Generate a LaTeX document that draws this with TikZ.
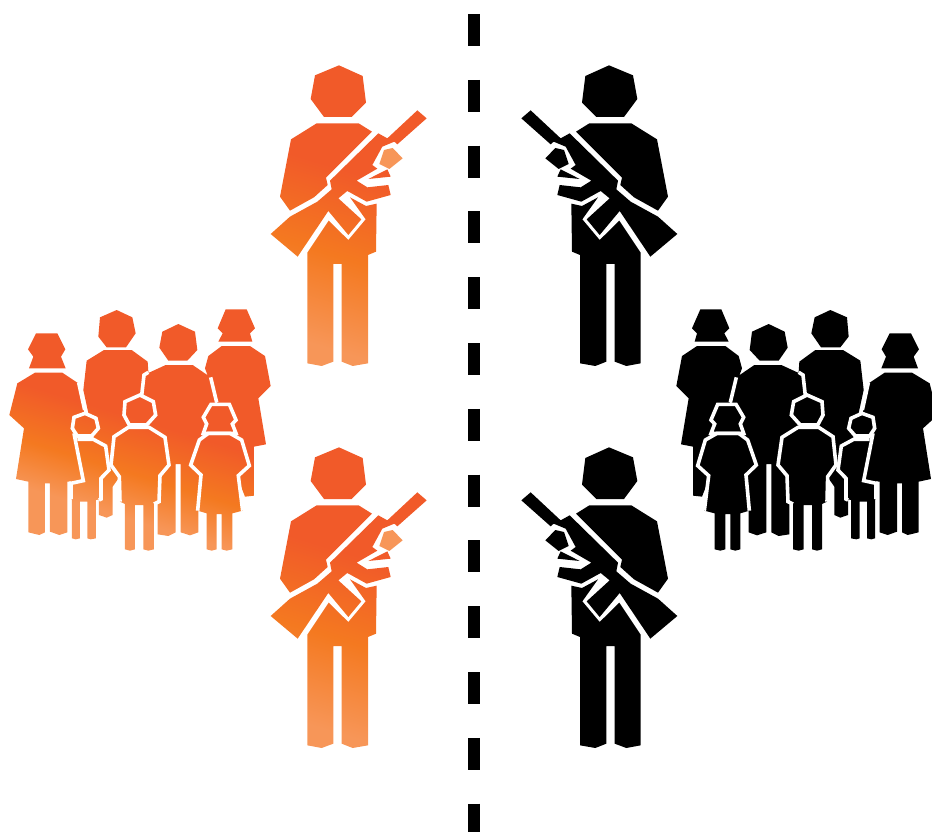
\documentclass[tikz,border=0pt]{standalone}
\usepackage{xcolor}
\definecolor{EmberCol}{RGB}{241,90,41}
\definecolor{AmberCol}{RGB}{244,121,32}
\definecolor{PeachCol}{RGB}{247,150,88}
\pgfdeclareverticalshading{figurefade}{100bp}{color(0bp)=(PeachCol); color(25bp)=(PeachCol); color(42bp)=(AmberCol); color(58bp)=(EmberCol); color(100bp)=(EmberCol)}
\pgfdeclareverticalshading{crowdfade}{100bp}{color(0bp)=(PeachCol); color(32bp)=(PeachCol); color(41bp)=(AmberCol); color(52bp)=(EmberCol); color(100bp)=(EmberCol)}
\tikzset{
	lit/.style={figure/.style={shade, shading=figurefade, shading angle=-17}, hand/.style={fill=PeachCol}},
	litcrowd/.style={figure/.style={shade, shading=crowdfade, shading angle=-17}},
	dark/.style={figure/.style={fill=black}, hand/.style={fill=black}},
	gap/.style={draw=white, line width=3.6pt, line join=miter},
	divider/.style={black, line width=12pt, dash pattern=on 32pt off 33.8pt},
	soldier/.pic={
		% head, torso, rifle with arm, finger, legs
		\path[figure]
		(237,46) -- (308,78) -- (318,158) -- (275,201) -- (192,201) -- (152,147) -- (165,76) -- cycle
		(170,220) -- (296,220) -- (336,245) -- (198,383) -- (203,405) -- (162,442) -- (90,482) -- (60,440) -- (93,268) -- cycle
		(472,181) -- (500,205) -- (412,283) -- (403,275) -- (367,290) -- (337,345) -- (352,356) -- (290,392) -- (322,412) -- (385,405) -- (392,435) -- (320,455) -- (262,423) -- (235,445) -- (304,508) -- (265,555) -- (205,483) -- (113,620) -- (32,552) -- (90,500) -- (172,455) -- (215,418) -- (210,392) -- (355,250) -- (382,265) -- cycle
		(382,358) -- (392,380) -- (325,387) -- cycle
		(142,608) -- (206,512) -- (265,570) -- (317,508) -- (270,442) -- (318,468) -- (350,461) -- (348,605) -- (324,615) -- (324,940) -- (278,948) -- (245,935) -- (245,642) -- (220,642) -- (220,935) -- (185,948) -- (142,940) -- cycle;
		% hand on the rifle
		\path[hand] (398,294) -- (428,325) -- (388,357) -- (358,342) -- (372,300) -- cycle;
	},
	family/.pic={
		\path[figure]
		% woman left
		(108,100) -- (172,100) -- (196,148) -- (183,170) -- (197,205) -- (87,205) -- (100,170) -- (84,148) -- cycle
		(105,218) -- (187,218) -- (235,250) -- (252,330) -- (250,540) -- (202,545) -- (202,697) -- (178,705) -- (150,695) -- (150,550) -- (135,550) -- (135,697) -- (118,705) -- (85,697) -- (85,545) -- (48,537) -- (72,385) -- (28,345) -- (52,250) -- cycle
		% man behind
		(350,30) -- (397,52) -- (407,100) -- (378,142) -- (320,142) -- (295,110) -- (300,52) -- cycle
		(312,150) -- (395,150) -- (443,185) -- (445,215) -- (445,400) -- (380,500) -- (338,560) -- (338,645) -- (320,653) -- (297,645) -- (297,600) -- (300,500) -- (250,270) -- (260,182) -- cycle
		% man in the middle
		(535,72) -- (585,95) -- (592,150) -- (562,182) -- (505,182) -- (478,143) -- (487,95) -- cycle
		(497,195) -- (578,195) -- (632,232) -- (650,330) -- (640,500) -- (595,560) -- (595,697) -- (570,706) -- (542,697) -- (542,492) -- (527,492) -- (527,697) -- (505,708) -- (473,703) -- (473,600) -- (440,400) -- (425,285) -- (432,225) -- cycle
		% woman right
		(677,28) -- (740,28) -- (765,85) -- (750,100) -- (757,125) -- (655,125) -- (668,100) -- (653,85) -- cycle
		(665,138) -- (750,138) -- (795,168) -- (812,258) -- (775,295) -- (798,433) -- (762,440) -- (762,587) -- (735,590) -- (700,500) -- (650,300) -- (615,205) -- (625,168) -- cycle
		% child in the middle
		(420,285) -- (460,305) -- (467,345) -- (440,375) -- (388,375) -- (372,345) -- (375,305) -- cycle
		(385,382) -- (447,382) -- (495,412) -- (507,495) -- (480,527) -- (477,605) -- (462,612) -- (462,748) -- (445,752) -- (430,748) -- (430,615) -- (405,615) -- (405,748) -- (390,752) -- (375,748) -- (375,612) -- (360,605) -- (358,530) -- (330,495) -- (342,410) -- cycle
		% girl
		(633,313) -- (688,313) -- (708,360) -- (697,372) -- (708,400) -- (610,400) -- (620,372) -- (610,352) -- cycle
		(610,405) -- (705,405) -- (725,420) -- (748,497) -- (715,527) -- (728,632) -- (697,640) -- (697,748) -- (680,752) -- (665,748) -- (665,642) -- (650,642) -- (650,748) -- (635,752) -- (620,748) -- (620,640) -- (593,632) -- (603,525) -- (572,495) -- (598,420) -- cycle
		% small child
		(255,340) -- (288,355) -- (295,385) -- (275,408) -- (232,408) -- (217,385) -- (222,352) -- cycle
		(232,418) -- (280,418) -- (317,438) -- (327,510) -- (303,535) -- (303,597) -- (288,600) -- (288,715) -- (272,718) -- (262,715) -- (262,605) -- (240,605) -- (240,715) -- (227,718) -- (216,715) -- (216,600) -- (213,595) -- (213,550) -- (225,410) -- cycle;
		% white outlines of the figures in front
		\draw[gap] (445,217) -- (432,225) -- (425,287);
		\draw[gap] (632,232) -- (650,307);
		\draw[gap] (236,248) -- (254,330);
		\draw[gap] (222,400) -- (250,542) -- (213,550) -- (213,597);
		\draw[gap] (420,285) -- (460,305) -- (467,345) -- (440,375) -- (388,375) -- (372,345) -- (375,305) -- cycle;
		\draw[gap] (360,605) -- (358,530) -- (333,495) -- (342,410) -- (385,382) -- (447,382) -- (495,412) -- (507,495) -- (480,527) -- (477,605) -- (462,612);
		\draw[gap] (633,313) -- (688,313) -- (708,360) -- (697,372) -- (708,400) -- (610,400) -- (620,372) -- (610,352) -- cycle;
		\draw[gap] (593,632) -- (603,525) -- (572,495) -- (598,420) -- (625,400) -- (690,400) -- (725,420) -- (748,497) -- (715,527) -- (728,632);
		\draw[gap] (255,340) -- (288,355) -- (295,385) -- (275,408) -- (232,408) -- (217,385) -- (222,352) -- cycle;
		\draw[gap] (232,418) -- (280,418) -- (317,438) -- (327,510) -- (303,535) -- (303,597) -- (297,600);
	},
}
\begin{document}
\begin{tikzpicture}[x=1pt, y=-1pt]
	\useasboundingbox (0,0) rectangle (932,832);
	
	% Dashed line between the two sides
	\coordinate (top) at (474,14);
	\coordinate (bottom) at (474,832);
	\draw[divider] (top) -- (bottom);
	
	% Orange side
	\pic[lit, scale=1/3] (soldierA) at (260,50) {soldier};
	\pic[lit, scale=1/3] (soldierB) at (260,432) {soldier};
	\pic[litcrowd, scale=1/3] (familyL) at (0,300) {family};
	
	% Black side, mirrored
	\pic[dark, xscale=-1/3, yscale=1/3] (soldierC) at (688,50) {soldier};
	\pic[dark, xscale=-1/3, yscale=1/3] (soldierD) at (688,432) {soldier};
	\pic[dark, xscale=-1/3, yscale=1/3] (familyR) at (947,300) {family};
	
\end{tikzpicture}
\end{document}
